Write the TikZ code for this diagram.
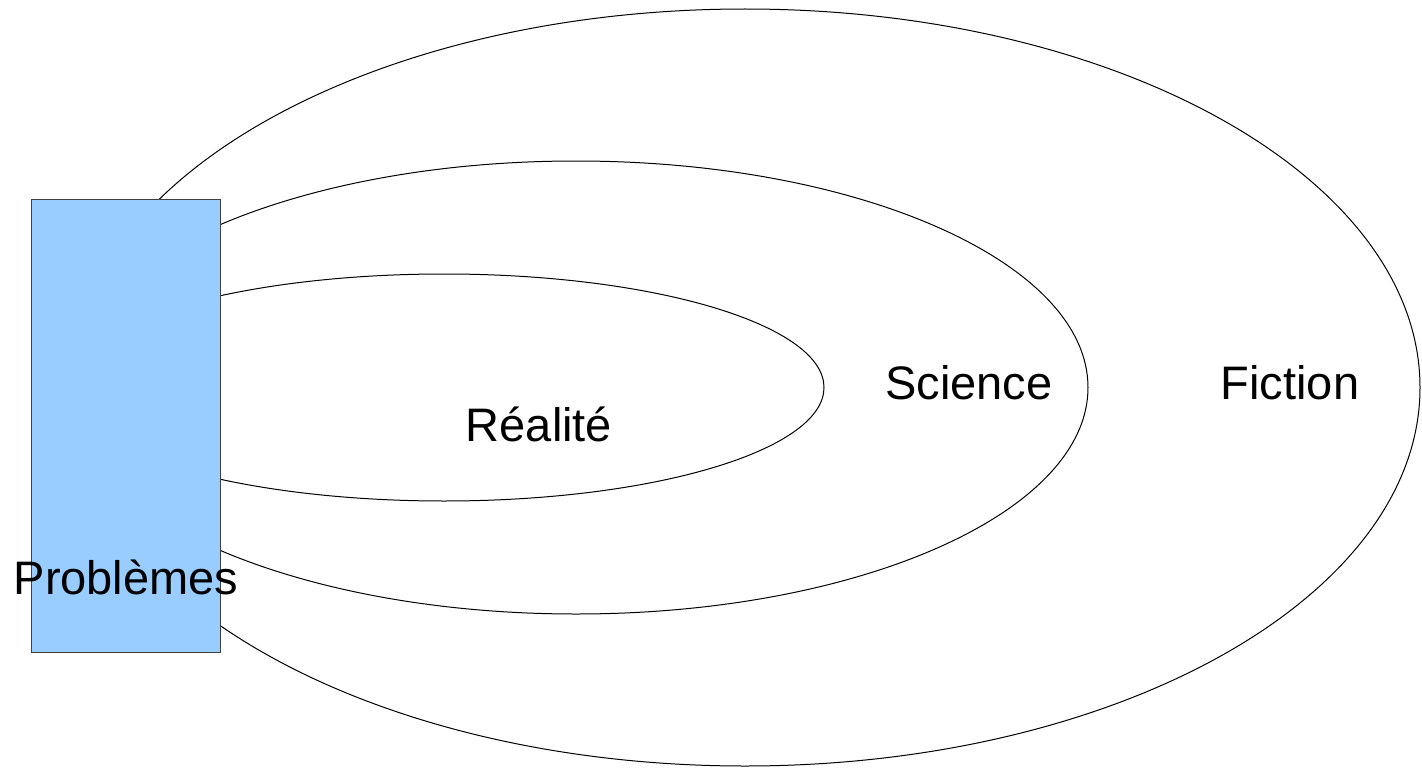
\documentclass[tikz,border=0pt]{standalone}
\usepackage{fontspec}
\setmainfont{Liberation Sans}
\begin{document}
\begin{tikzpicture}[x=1pt,y=-1pt,
  ring/.style={draw=black,line width=1pt},
  lbl/.style={anchor=base,inner sep=0pt,font=\fontsize{47}{50}\selectfont},
  probbox/.style={draw=black!75,line width=1pt,fill={rgb,255:red,153;green,204;blue,255},minimum width=189pt,minimum height=453pt,inner sep=0pt}]
\useasboundingbox (0,0) rectangle (1422,768);
\draw[ring] (745,387.5) ellipse [x radius=675pt, y radius=378.5pt];
\draw[ring] (576,387.5) ellipse [x radius=512pt, y radius=226.5pt];
\draw[ring] (444,387.5) ellipse [x radius=380pt, y radius=113.5pt];
\node[probbox] (prob) at (125.5,425.5) {};
\node[lbl] (problabel) at (126,594) {Problèmes};
\node[lbl] (realite) at (539,441) {Réalité};
\node[lbl] (science) at (969,399) {Science};
\node[lbl] (fiction) at (1290,399) {Fiction};
\end{tikzpicture}
\end{document}
